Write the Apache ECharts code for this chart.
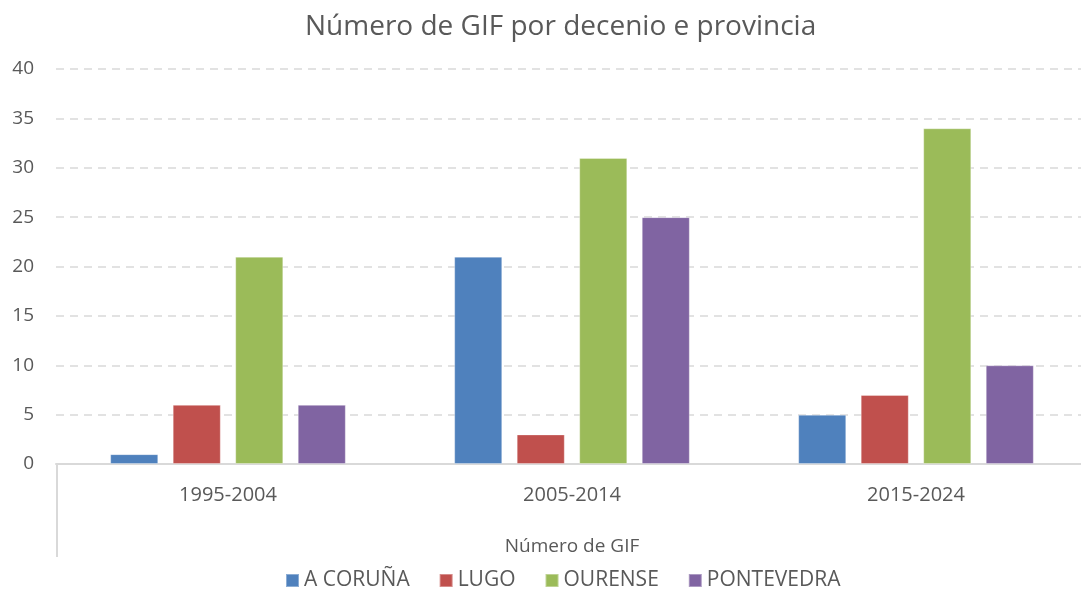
<!DOCTYPE html>
<html>
<head>
<meta charset="utf-8">
<script src="https://cdn.jsdelivr.net/npm/echarts@6/dist/echarts.min.js"></script>
<style>
  html, body { margin: 0; padding: 0; background: #fff; }
  #chart { width: 1081px; height: 590px; }
</style>
</head>
<body>
<div id="chart"></div>
<script>
// chart data
const decades = ["1995-2004", "2005-2014", "2015-2024"];
const aCoruna = [1, 21, 5];
const lugo = [6, 3, 7];
const ourense = [21, 31, 34];
const pontevedra = [6, 25, 10];

const chart = echarts.init(document.getElementById("chart"));

const FONT = "Open Sans";
const TEXT = "#595959";
// plot area runs a little past the right edge, like the cropped original
const GRID = { left: 56, right: -7, top: 69, bottom: 126 };

const mkSeries = (name, data, color) => ({
  name,
  type: "bar",
  data,
  barGap: "30%",
  barCategoryGap: "31.5%",
  itemStyle: {
    color,
    borderColor: "rgba(255,255,255,0.35)",
    borderWidth: 1,
  },
});

const option = {
  backgroundColor: "#fff",
  textStyle: { fontFamily: FONT },
  title: {
    text: "Número de GIF por decenio e provincia",
    left: 300,
    top: 8,
    textStyle: { fontFamily: FONT, fontSize: 28, fontWeight: "normal", color: TEXT },
  },
  legend: {
    top: 565,
    left: 280,
    itemWidth: 13,
    itemHeight: 13,
    itemGap: 29,
    icon: "rect",
    textStyle: { fontFamily: FONT, fontSize: 21, color: TEXT },
  },
  grid: { ...GRID, outerBoundsMode: "none" },
  xAxis: {
    type: "category",
    data: decades,
    name: "Número de GIF",
    nameLocation: "middle",
    nameGap: 73,
    nameTextStyle: { fontFamily: FONT, fontSize: 19, color: TEXT },
    axisLine: { lineStyle: { color: "#d9d9d9", width: 2 } },
    axisTick: { show: false },
    axisLabel: { fontFamily: FONT, fontSize: 20, color: TEXT, margin: 21 },
  },
  yAxis: {
    type: "value",
    min: 0,
    max: 40,
    interval: 5,
    axisLine: { show: false },
    axisTick: { show: false },
    axisLabel: { fontFamily: FONT, fontSize: 19, color: TEXT, margin: 22 },
    splitLine: { lineStyle: { color: "#d9d9d9", width: 1.5, type: [8, 6] } },
  },
  graphic: [
    {
      type: "line",
      shape: { x1: 57, y1: 590 - GRID.bottom, x2: 57, y2: 557 },
      style: { stroke: "#d9d9d9", lineWidth: 2 },
    },
  ],
  series: [
    mkSeries("A CORUÑA", aCoruna, "#4F81BD"),
    mkSeries("LUGO", lugo, "#C0504D"),
    mkSeries("OURENSE", ourense, "#9BBB59"),
    mkSeries("PONTEVEDRA", pontevedra, "#8064A2"),
  ],
};

chart.setOption(option);
</script>
</body>
</html>
